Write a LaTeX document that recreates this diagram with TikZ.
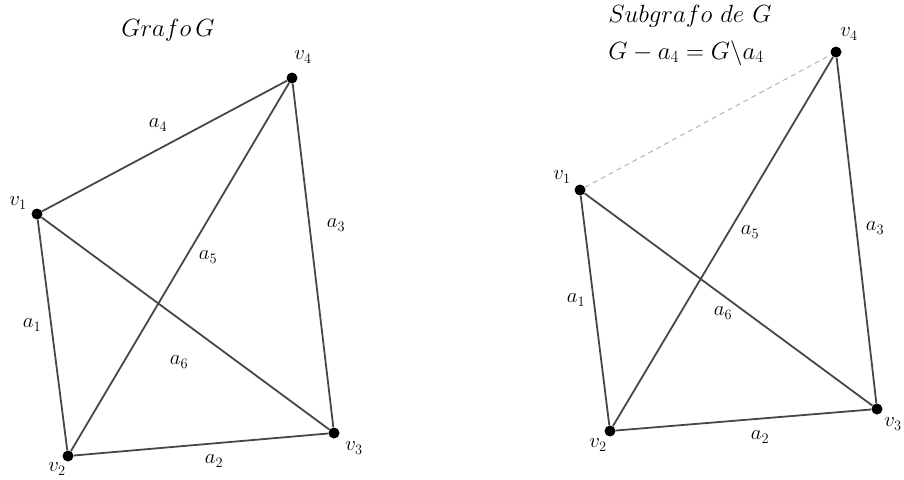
\documentclass[tikz,border=0pt]{standalone}
\begin{document}
\begin{tikzpicture}[x=1pt,y=-1pt,
  vert/.style={circle,fill=black,inner sep=0pt,minimum size=11pt},
  edge/.style={line width=1.8pt,draw=black!72},
  dedge/.style={line width=1pt,draw=black!30,dashed,dash pattern=on 5pt off 4pt},
  lbl/.style={font=\fontsize{20}{24}\selectfont,inner sep=0pt},
  ttl/.style={font=\fontsize{27}{32}\selectfont,inner sep=0pt}]
\useasboundingbox (0,0) rectangle (904,479);
% left graph
\node[vert] (l1) at (37,214) {};
\node[vert] (l2) at (68,456) {};
\node[vert] (l3) at (334,433) {};
\node[vert] (l4) at (292,78) {};
\draw[edge] (l1) -- (l4) (l1) -- (l2) (l1) -- (l3) (l2) -- (l3) (l2) -- (l4) (l4) -- (l3);
\node[lbl] (tl1) at (18,203) {$v_1$};
\node[lbl] (tl2) at (57,469) {$v_2$};
\node[lbl] (tl3) at (354,448) {$v_3$};
\node[lbl] (tl4) at (303,57) {$v_4$};
\node[lbl] (la4) at (158,125) {$a_4$};
\node[lbl] (la5) at (208,257) {$a_5$};
\node[lbl] (la3) at (336,225) {$a_3$};
\node[lbl] (la1) at (32,325) {$a_1$};
\node[lbl] (la6) at (179,362) {$a_6$};
\node[lbl] (la2) at (214,461) {$a_2$};
\node[ttl] (tt1) at (168,30) {$Grafo\,G$};
% right graph
\node[vert] (r1) at (580,190) {};
\node[vert] (r2) at (610,431) {};
\node[vert] (r3) at (877,409) {};
\node[vert] (r4) at (836,52) {};
\draw[dedge] (r1) -- (r4);
\draw[edge] (r1) -- (r2) (r1) -- (r3) (r2) -- (r3) (r2) -- (r4) (r4) -- (r3);
\node[lbl] (tr1) at (562,177) {$v_1$};
\node[lbl] (tr2) at (598,445) {$v_2$};
\node[lbl] (tr3) at (893,424) {$v_3$};
\node[lbl] (tr4) at (849,34) {$v_4$};
\node[lbl] (ra5) at (750,232) {$a_5$};
\node[lbl] (ra3) at (875,228) {$a_3$};
\node[lbl] (ra1) at (576,300) {$a_1$};
\node[lbl] (ra6) at (723,313) {$a_6$};
\node[lbl] (ra2) at (760,437) {$a_2$};
\node[ttl] (tt2) at (690,16) {$Subgrafo\ de\ G$};
\node[ttl] (tt3) at (686,53) {$G-a_4=G\backslash a_4$};
\end{tikzpicture}
\end{document}
